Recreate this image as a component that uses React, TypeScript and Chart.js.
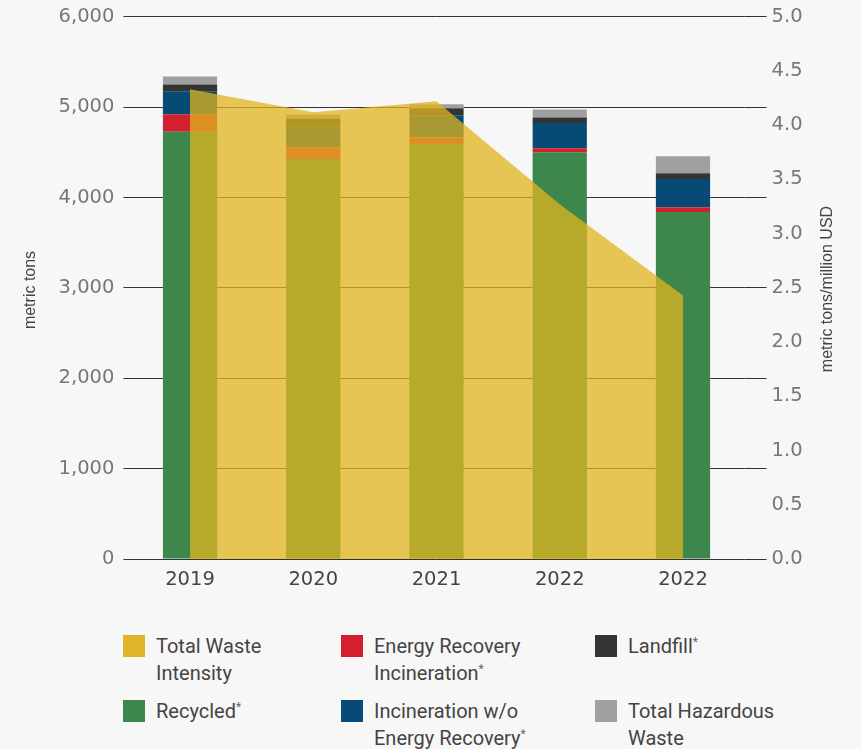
import React, { useEffect, useRef } from 'react';
import { Chart, registerables } from 'chart.js';

Chart.register(...registerables);

const categories = ['2019', '2020', '2021', '2022', '2022'];
const recycled = [4728, 4426, 4591, 4500, 3838];
const energyRecoveryIncineration = [194, 129, 74, 44, 55];
const incinerationWithoutRecovery = [247, 232, 246, 279, 312];
const landfill = [81, 88, 77, 63, 63];
const totalHazardous = [88, 44, 44, 88, 188];
const wasteIntensity = [4.33, 4.12, 4.22, 3.27, 2.43];

const leftAxisMax = 6000;
const leftAxisStep = 1000;
const rightAxisMax = 5;
const rightAxisStep = 0.5;
const leftAxisTitle = 'metric tons';
const rightAxisTitle = 'metric tons/million USD';

const seriesLabels = {
  intensity: 'Total Waste Intensity',
  recycled: 'Recycled*',
  energy: 'Energy Recovery Incineration*',
  incin: 'Incineration w/o Energy Recovery*',
  landfill: 'Landfill*',
  hazardous: 'Total Hazardous Waste',
};

const colors = {
  intensitySwatch: '#e0b428',
  intensityArea: 'rgba(224,180,30,0.75)',
  recycled: '#3d864c',
  energy: '#d2202f',
  incin: '#074a75',
  landfill: '#333534',
  hazardous: '#9fa0a2',
};

const legendItems = [
  { lines: ['Total Waste', 'Intensity'], star: false, color: colors.intensitySwatch, col: 0, row: 0 },
  { lines: ['Recycled'], star: true, color: colors.recycled, col: 0, row: 1 },
  { lines: ['Energy Recovery', 'Incineration'], star: true, color: colors.energy, col: 1, row: 0 },
  { lines: ['Incineration w/o', 'Energy Recovery'], star: true, color: colors.incin, col: 1, row: 1 },
  { lines: ['Landfill'], star: true, color: colors.landfill, col: 2, row: 0 },
  { lines: ['Total Hazardous', 'Waste'], star: false, color: colors.hazardous, col: 2, row: 1 },
];

const legendColX = [123, 341, 595];
const legendRowY = [633, 698];

const CANVAS_SHIFT = 22;

const extrasPlugin = {
  id: 'extras',
  afterDraw(chart: any) {
    const { ctx, chartArea, scales } = chart;
    const y = scales.y;
    ctx.save();
    ctx.strokeStyle = '#333333';
    ctx.lineWidth = 1;
    y.ticks.forEach((t: any) => {
      const py = Math.round(y.getPixelForValue(t.value) - 0.5) + 0.5;
      ctx.beginPath();
      ctx.moveTo(chartArea.right, py);
      ctx.lineTo(chartArea.right + 22, py);
      ctx.stroke();
    });
    ctx.fillStyle = '#444444';
    ctx.font = '16px "Liberation Sans", Arial, sans-serif';
    ctx.textAlign = 'center';
    ctx.textBaseline = 'middle';
    ctx.save();
    ctx.translate(31, 290 + CANVAS_SHIFT);
    ctx.rotate(-Math.PI / 2);
    ctx.fillText(leftAxisTitle, 0, 0);
    ctx.restore();
    ctx.save();
    ctx.translate(828, 289 + CANVAS_SHIFT);
    ctx.rotate(-Math.PI / 2);
    ctx.fillText(rightAxisTitle, 0, 0);
    ctx.restore();
    ctx.restore();
  },
};

export default function App() {
  const canvasRef = useRef<HTMLCanvasElement | null>(null);

  useEffect(() => {
    document.body.style.margin = '0';
    document.body.style.background = '#f7f7f7';
    const canvas = canvasRef.current;
    if (!canvas) return;
    const tickFont = { family: '"DejaVu Sans", sans-serif', size: 19.5 };
    const barCommon = { borderWidth: 0, order: 1, yAxisID: 'y', categoryPercentage: 1, barPercentage: 0.44 };
    const chart = new Chart(canvas, {
      type: 'bar',
      data: {
        labels: categories,
        datasets: [
          {
            type: 'line',
            label: seriesLabels.intensity,
            data: wasteIntensity,
            yAxisID: 'y1',
            order: 0,
            fill: 'origin',
            backgroundColor: colors.intensityArea,
            borderWidth: 0,
            borderColor: 'rgba(0,0,0,0)',
            pointRadius: 0,
            tension: 0,
          } as any,
          { ...barCommon, label: seriesLabels.recycled, data: recycled, backgroundColor: colors.recycled },
          { ...barCommon, label: seriesLabels.energy, data: energyRecoveryIncineration, backgroundColor: colors.energy },
          { ...barCommon, label: seriesLabels.incin, data: incinerationWithoutRecovery, backgroundColor: colors.incin },
          { ...barCommon, label: seriesLabels.landfill, data: landfill, backgroundColor: colors.landfill },
          { ...barCommon, label: seriesLabels.hazardous, data: totalHazardous, backgroundColor: colors.hazardous },
        ],
      },
      options: {
        responsive: false,
        animation: false,
        devicePixelRatio: 1,
        layout: { padding: { top: 15, left: 0, right: 0, bottom: 0 } },
        plugins: { legend: { display: false }, tooltip: { enabled: false } },
        scales: {
          x: {
            stacked: true,
            offset: true,
            grid: { display: false, drawTicks: false },
            border: { display: false },
            ticks: { color: '#444444', font: tickFont, padding: 9, maxRotation: 0 },
            afterFit: (s: any) => { s.height = 41; },
          },
          y: {
            stacked: true,
            position: 'left',
            min: 0,
            max: leftAxisMax,
            grid: { color: '#333333', lineWidth: 1, drawTicks: true, tickLength: 5, drawOnChartArea: true },
            border: { display: false },
            ticks: { stepSize: leftAxisStep, color: '#777777', font: tickFont, padding: 9 },
            afterFit: (s: any) => { s.width = 128.4; },
          },
          y1: {
            stacked: false,
            position: 'right',
            min: 0,
            max: rightAxisMax,
            grid: { display: false, drawTicks: false, drawOnChartArea: false },
            border: { display: false },
            ticks: {
              stepSize: rightAxisStep,
              color: '#777777',
              font: tickFont,
              padding: 27,
              callback: (v: any) => Number(v).toFixed(1),
            },
            afterFit: (s: any) => { s.width = 116.4; },
          },
        },
      } as any,
      plugins: [extrasPlugin],
    });
    return () => chart.destroy();
  }, []);

  return (
    <div style={{ position: 'relative', width: 861, height: 749, background: '#f7f7f7', overflow: 'hidden' }}>
      <canvas
        ref={canvasRef}
        width={861}
        height={600 + CANVAS_SHIFT}
        style={{ display: 'block', width: 861, height: 600 + CANVAS_SHIFT, marginTop: -CANVAS_SHIFT }}
      />
      {legendItems.map((it, i) => (
        <div
          key={i}
          style={{
            position: 'absolute',
            left: legendColX[it.col],
            top: legendRowY[it.row],
            display: 'flex',
            alignItems: 'flex-start',
            fontFamily: 'Roboto, sans-serif',
            fontSize: 20,
            lineHeight: '27px',
            color: '#444444',
            whiteSpace: 'nowrap',
          }}
        >
          <div style={{ width: 22, height: 22, marginTop: 2, background: it.color, flex: 'none' }} />
          <div style={{ marginLeft: 11 }}>
            {it.lines.map((ln, j) => (
              <div key={j}>
                {ln}
                {it.star && j === it.lines.length - 1 ? (
                  <span style={{ fontSize: 12, verticalAlign: 'top', lineHeight: '18px', color: '#666666' }}>*</span>
                ) : null}
              </div>
            ))}
          </div>
        </div>
      ))}
    </div>
  );
}
